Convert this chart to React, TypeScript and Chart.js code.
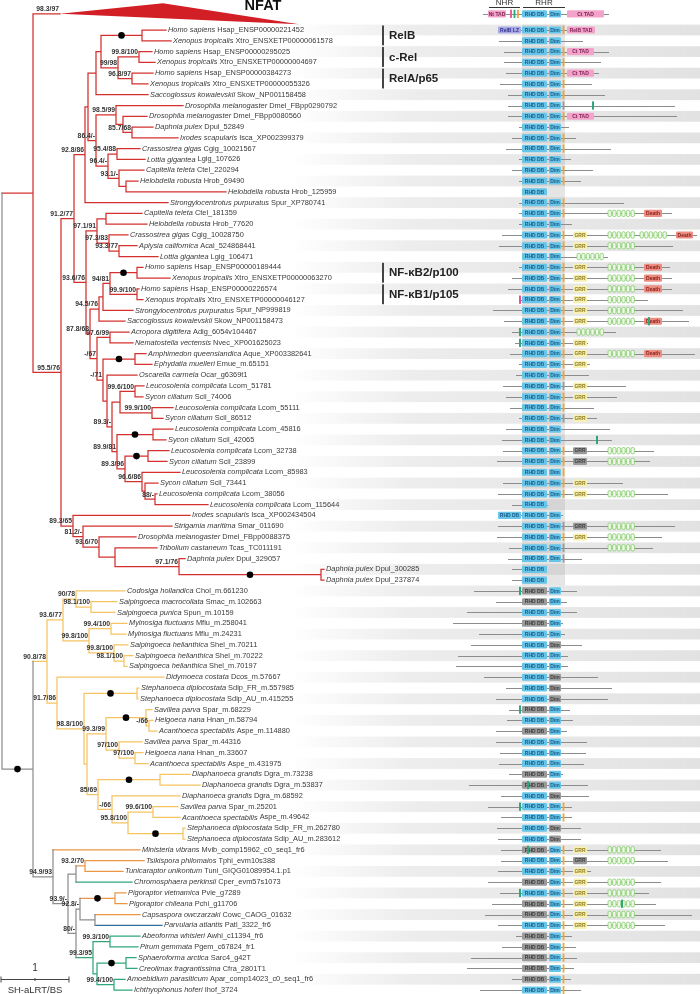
import React, { useEffect, useRef } from 'react';
import { Chart, registerables } from 'chart.js';

Chart.register(...registerables);

// ---------- page / row geometry ----------
const WIDTH = 700;
const HEIGHT = 994;
const ROW_TOP_PX = 30;
const ROW_STEP_PX = 10.787;
const Y_MIN = -ROW_TOP_PX / ROW_STEP_PX;
const Y_MAX = (HEIGHT - ROW_TOP_PX) / ROW_STEP_PX;
const FONT = '"Liberation Sans", Arial, Helvetica, sans-serif';

const PALETTE: Record<string, string> = {
  r: '#d3302e', y: '#f6c462', k: '#8e8e8e', o: '#eb9646', g: '#2ea87a', b: '#2f6f9e', p: '#e8508f',
};

// ---------- leaves (one per row) ----------
const leafSpecies = [
  'Homo sapiens', 'Xenopus tropicalis', 'Homo sapiens', 'Xenopus tropicalis', 'Homo sapiens', 'Xenopus tropicalis', 'Saccoglossus kowalevskii', 'Drosophila melanogaster', 'Drosophila melanogaster', 'Daphnia pulex',
  'Ixodes scapularis', 'Crassostrea gigas', 'Lottia gigantea', 'Capitella teleta', 'Helobdella robusta', 'Helobdella robusta', 'Strongylocentrotus purpuratus', 'Capitella teleta', 'Helobdella robusta', 'Crassostrea gigas',
  'Aplysia californica', 'Lottia gigantea', 'Homo sapiens', 'Xenopus tropicalis', 'Homo sapiens', 'Xenopus tropicalis', 'Strongylocentrotus purpuratus', 'Saccoglossus kowalevskii', 'Acropora digitifera', 'Nematostella vectensis',
  'Amphimedon queenslandica', 'Ephydatia muelleri', 'Oscarella carmela', 'Leucosolenia complicata', 'Sycon ciliatum', 'Leucosolenia complicata', 'Sycon ciliatum', 'Leucosolenia complicata', 'Sycon ciliatum', 'Leucosolenia complicata',
  'Sycon ciliatum', 'Leucosolenia complicata', 'Sycon ciliatum', 'Leucosolenia complicata', 'Leucosolenia complicata', 'Ixodes scapularis', 'Strigamia maritima', 'Drosophila melanogaster', 'Tribolium castaneum', 'Daphnia pulex',
  'Daphnia pulex', 'Daphnia pulex', 'Codosiga hollandica', 'Salpingoeca macrocollata', 'Salpingoeca punica', 'Mylnosiga fluctuans', 'Mylnosiga fluctuans', 'Salpingoeca helianthica', 'Salpingoeca helianthica', 'Salpingoeca helianthica',
  'Didymoeca costata', 'Stephanoeca diplocostata', 'Stephanoeca diplocostata', 'Savillea parva', 'Helgoeca nana', 'Acanthoeca spectabilis', 'Savillea parva', 'Helgoeca nana', 'Acanthoeca spectabilis', 'Diaphanoeca grandis',
  'Diaphanoeca grandis', 'Diaphanoeca grandis', 'Savillea parva', 'Acanthoeca spectabilis', 'Stephanoeca diplocostata', 'Stephanoeca diplocostata', 'Ministeria vibrans', 'Tsikispora philomaios', 'Tunicaraptor unikontum', 'Chromosphaera perkinsii',
  'Pigoraptor vietnamica', 'Pigoraptor chileana', 'Capsaspora owczarzaki', 'Parvularia atlantis', 'Abeoforma whisleri', 'Pirum gemmata', 'Sphaeroforma arctica', 'Creolimax fragrantissima', 'Amoebidium parasiticum', 'Ichthyophonus hoferi',
];
const leafIds = [
  'Hsap_ENSP00000221452', 'Xtro_ENSXETP00000061578', 'Hsap_ENSP00000295025', 'Xtro_ENSXETP00000004697', 'Hsap_ENSP00000384273', 'Xtro_ENSXETP00000055326', 'Skow_NP001158458', 'Dmel_FBpp0290792', 'Dmel_FBpp0080560', 'Dpul_52849',
  'Isca_XP002399379', 'Cgig_10021567', 'Lgig_107626', 'Ctel_220294', 'Hrob_69490', 'Hrob_125959', 'Spur_XP780741', 'Ctel_181359', 'Hrob_77620', 'Cgig_10028750',
  'Acal_524868441', 'Lgig_106471', 'Hsap_ENSP00000189444', 'Xtro_ENSXETP00000063270', 'Hsap_ENSP00000226574', 'Xtro_ENSXETP00000046127', 'Spur_NP999819', 'Skow_NP001158473', 'Adig_6054v104467', 'Nvec_XP001625023',
  'Aque_XP003382641', 'Emue_m.65151', 'Ocar_g6369t1', 'Lcom_51781', 'Scil_74006', 'Lcom_55111', 'Scil_86512', 'Lcom_45816', 'Scil_42065', 'Lcom_32738',
  'Scil_23899', 'Lcom_85983', 'Scil_73441', 'Lcom_38056', 'Lcom_115644', 'Isca_XP002434504', 'Smar_011690', 'Dmel_FBpp0088375', 'Tcas_TC011191', 'Dpul_329057',
  'Dpul_300285', 'Dpul_237874', 'Chol_m.661230', 'Smac_m.102663', 'Spun_m.10159', 'Mflu_m.258041', 'Mflu_m.24231', 'Shel_m.70211', 'Shel_m.70222', 'Shel_m.70197',
  'Dcos_m.57667', 'Sdip_FR_m.557985', 'Sdip_AU_m.415255', 'Spar_m.68229', 'Hnan_m.58794', 'Aspe_m.114880', 'Spar_m.44316', 'Hnan_m.33607', 'Aspe_m.431975', 'Dgra_m.73238',
  'Dgra_m.53837', 'Dgra_m.68592', 'Spar_m.25201', 'Aspe_m.49642', 'Sdip_FR_m.262780', 'Sdip_AU_m.283612', 'Mvib_comp15962_c0_seq1_fr6', 'Tphi_evm10s388', 'Tuni_GIQG01089954.1.p1', 'Cper_evm57s1073',
  'Pvie_g7289', 'Pchi_g11706', 'Cowc_CAOG_01632', 'Patl_3322_fr6', 'Awhi_c11394_fr6', 'Pgem_c67824_fr1', 'Sarc4_g42T', 'Cfra_2801T1', 'Apar_comp14023_c0_seq1_fr6', 'Ihof_3724',
];
const leafParent = [
  'V12', 'V12', 'V34', 'V34', 'V56', 'V56', 'X2', 'S', 'U', 'V1011',
  'V1011', 'W', 'W', 'Y', 'Z', 'Z', 'P1', 'L1819', 'L1819', 'L20',
  'L2122', 'L2122', 'V2324', 'V2324', 'V2526', 'V2526', 'J2', 'K', 'G', 'G',
  'E', 'E', 'C', 'V3435', 'V3435', 'V3637', 'V3637', 'V3839', 'V3839', 'V4041',
  'V4041', 'A4', 'A5', 'A6', 'A6', 'O', 'O2', 'O3', 'O4', 'O5',
  'O6', 'O6', 'C90', 'C5455', 'C5455', 'C5657', 'C5657', 'C58', 'C5960', 'C5960',
  'Cho2', 'C6263', 'C6263', 'K1', 'K6566', 'K6566', 'K2', 'K6869', 'K6869', 'L7071',
  'L7071', 'L2n', 'L7374', 'L7374', 'L7576', 'L7576', 'Hol', 'T7879', 'T7879', 'T1',
  'P8182', 'P8182', 'P8384', 'P8384', 'I8586', 'I8586', 'I8788', 'I8788', 'I8990', 'I8990',
];
const leafTip = [
  166, 171, 152, 155, 153, 148, 148, 183, 147, 153,
  178, 140, 145, 144, 138, 226, 168, 142, 147, 128,
  137, 158, 143, 170, 139, 143, 133, 125, 129, 133,
  146, 152, 137, 144, 143, 173, 163, 173, 166, 169,
  167, 180, 158, 157, 208, 190, 172, 136, 157, 185,
  324, 324, 125, 117, 115, 127, 126, 128, 133, 127,
  164, 139, 138, 152, 153, 157, 142, 143, 148, 190,
  200, 180, 178, 180, 185, 185, 140, 144, 123, 132,
  126, 127, 140, 162, 140, 138, 136, 137, 125, 132,
];
const leafColor =
  'rrrrrrrrrr' + 'rrrrrrrrrr' + 'rrrrrrrrrr' + 'rrrrrrrrrr' + 'rrrrrrrrrr' +
  'rryyyyyyyy' + 'yyyyyyyyyy' + 'yyyyyyooog' + 'ooobgggggg';

// ---------- internal nodes ----------
const nodeName = [
  'root', 'A', 'NFAT', 'N0', 'N1', 'P1', 'Q', 'X2', 'X1', 'V12',
  'X0', 'V34', 'V56', 'R', 'S', 'U', 'V1011', 'T', 'W', 'Y',
  'Z', 'N2', 'L', 'L1819', 'L20', 'L2122', 'M', 'K', 'J2', 'J',
  'V2324', 'V2526', 'H', 'G', 'F', 'E', 'C', 'B1', 'A1', 'V3435',
  'V3637', 'A2', 'V3839', 'A3', 'V4041', 'A4', 'A5', 'A6', 'O', 'O2',
  'O3', 'O4', 'O5', 'O6', 'B', 'Cho', 'Cho1', 'C90', 'C5455', 'C99',
  'C5657', 'C58', 'C5960', 'Cho2', 'Cho3', 'C6263', 'Cho3b', 'Cho4', 'K1', 'K6566',
  'K2', 'K6869', 'Cho5', 'L7071', 'L2n', 'L95', 'L7374', 'L7576', 'Hol', 'Hol2',
  'T1', 'T7879', 'H80', 'P', 'P8182', 'P8384', 'I1', 'I8586', 'I2', 'I8788',
  'I8990',
];
const nodeParent = [
  '', 'root', 'A', 'A', 'N0', 'N1', 'P1', 'Q', 'X2', 'X1',
  'X1', 'X0', 'X0', 'Q', 'R', 'S', 'U', 'R', 'T', 'T',
  'Y', 'N1', 'N2', 'L', 'L', 'L20', 'N2', 'M', 'K', 'J2',
  'J', 'J', 'M', 'H', 'H', 'F', 'F', 'C', 'B1', 'A1',
  'A1', 'B1', 'A2', 'A2', 'A3', 'A3', 'A4', 'A5', 'N0', 'O',
  'O2', 'O3', 'O4', 'O5', 'root', 'B', 'Cho', 'Cho1', 'C90', 'Cho1',
  'C99', 'C99', 'C58', 'Cho', 'Cho2', 'Cho3', 'Cho3', 'Cho3b', 'Cho4', 'K1',
  'Cho4', 'K2', 'Cho3b', 'Cho5', 'Cho5', 'L2n', 'L95', 'L95', 'B', 'Hol',
  'Hol2', 'T1', 'Hol2', 'H80', 'P', 'P', 'H80', 'I1', 'I1', 'I2',
  'I2',
];
const nodeX = [
  2, 33, 60, 61, 74, 85, 88, 96, 101, 142,
  118, 139, 132, 96, 116, 123, 132, 108, 117, 119,
  126, 86, 97, 106, 109, 119, 90, 99, 103, 110,
  137, 137, 97, 110, 103, 135, 107, 112, 120, 135,
  152, 117, 153, 125, 148, 142, 145, 155, 73, 83,
  99, 115, 179, 321, 33, 47, 63, 76, 91, 89,
  111, 114, 124, 57, 84, 137, 87, 106, 146, 149,
  119, 135, 98, 160, 112, 128, 153, 183, 53, 68,
  76, 85, 76, 80, 115, 95, 93, 110, 97, 126,
  114,
];
const nodeSupport = [
  '', '', '98.3/97', '95.5/76', '91.2/77', '92.8/86', '', '', '', '',
  '99/98', '99.8/100', '96.8/97', '86.4/-', '98.5/99', '', '85.7/68', '96.4/-', '95.4/88', '93.1/-',
  '', '93.6/76', '97.1/91', '', '97.3/83', '93.3/77', '87.8/68', '94.5/76', '', '94/81',
  '', '99.9/100', '-/67', '97.6/99', '-/71', '', '', '89.3/-', '', '99.6/100',
  '99.9/100', '89.9/81', '', '89.3/96', '', '96.6/86', '', '88/-', '89.3/65', '81.2/-',
  '93.6/70', '', '97.1/76', '', '', '90.8/78', '93.6/77', '90/78', '98.1/100', '99.8/100',
  '99.4/100', '99.8/100', '98.1/100', '91.7/86', '98.8/100', '', '', '99.3/99', '', '-/66',
  '97/100', '97/100', '85/69', '', '-/66', '95.8/100', '99.6/100', '', '94.9/93', '93.9/-',
  '', '93.2/70', '80/-', '92.8/-', '', '', '99.3/95', '99.3/100', '', '',
  '99.4/100',
];
const nodeDot =
  '0000000001' + '0000000000' + '0000000000' + '1000010000' + '0010100000' +
  '0001100000' + '0000010010' + '0001000100' + '0000100001' + '0';
const nodeColor =
  'krrrrrrrrr' + 'rrrrrrrrrr' + 'rrrrrrrrrr' + 'rrrrrrrrrr' + 'rrrrrrrrrr' +
  'rrrrkyyyyy' + 'yyyyyyyyyy' + 'yyyyyyyykk' + 'kokkokgggg' + 'g';

// collapsed NFAT clade glyph
const NFAT_ROW = -1.5;
const NFAT_GLYPH_X = [60, 163, 299];
const NFAT_GLYPH_DROW = [0, -0.98, 0.96];

// clade names
const groupName = ['RelB', 'c-Rel', 'RelA/p65', 'NF-\u03baB2/p100', 'NF-\u03baB1/p105'];
const groupFirst = [0, 2, 4, 22, 24];
const groupLast = [1, 3, 5, 23, 25];
const GROUP_BAR_X = 383;
const GROUP_TEXT_X = 389;

// ---------- domain architectures (protein axis shares the x scale) ----------
const lineStart = [
  498, 499, 504, 504, 506, 500, 508, 508, 508, 519,
  512, 506, 519, 512, 519, null, 519, 519, 519, 502,
  499, 522, 519, 512, 508, 519, 493, 504, 512, 515,
  510, 519, 516, 503, 506, 510, 519, 506, 502, 503,
  497, null, 503, 498, 512, 498, 498, 497, 509, 508,
  512, 512, 474, 496, 467, 453, 479, 471, 458, 456,
  484, 506, 496, 509, 507, 496, 496, 500, 499, 509,
  469, 501, 488, 501, 497, 498, 501, 501, 498, 488,
  500, 492, 485, 498, 516, 502, 471, 467, 512, 480,
];
const lineEnd = [
  595, 583, 609, 601, 599, 592, 605, 675, 677, 569,
  576, 611, 571, 593, 581, null, 624, 672, 572, 697,
  673, 608, 670, 672, 672, 648, 683, 689, 616, 588,
  695, 590, 589, 626, 617, 594, 597, 610, 612, 654,
  650, null, 623, 668, 548, 563, 675, 662, 653, 582,
  547, 547, 577, 567, 577, 563, 565, 582, 568, 568,
  598, 612, 608, 570, 573, 567, 587, 586, 584, 563,
  588, 589, 572, 572, 581, 581, 661, 668, 591, 661,
  649, 656, 692, 665, 572, 576, 577, 574, 571, 581,
];
const rhdCode =
  'bbbbbbbbbb' + 'bbbbbbbbbb' + 'bbbbbbbbbb' + 'bbbbbbbbbb' + 'bbbbbbbbbb' +
  'bbggbgbbbb' + 'bbbgbgbbbg' + 'gbbbbbgbbg' + 'bggbgggggb';
const dimCode =
  'bbbbbbbbbb' + 'bbbbb-bbbb' + 'bbbbbbbbbb' + 'bbbbbbbbbb' + 'bbbb-bbbbb' +
  '--bbbbbgbb' + 'gggbbbbbbb' + 'bgbbggbbbb' + 'bbbbbbbbbb';
const iptCode =
  'o-ooooogo-' + 'oo-oo-oo-o' + 'o-oooooooo' + 'ooogoog--o' + 'oooo--gogg' +
  '----------' + '----------' + '--oo--oooo' + 'oooooooooo';
const grrCode =
  '----------' + '---------y' + 'y-yyyyyy-y' + 'yy-yy-y--g' + 'g-yy--gy--' +
  '----------' + '----------' + '------ygyy' + 'yyyy------';
const ankCode =
  '----------' + '-------a-c' + 'abaaaaaab-' + 'a--------a' + 'a--a--aaa-' +
  '----------' + '----------' + '------aa-a' + 'aaaa------';
const deathCode =
  '----------' + '-------x-z' + '--xxx--x--' + 'x---------' + '----------' +
  '----------' + '----------' + '----------' + '----------';
const ANK_STARTS: Record<string, number[]> = { a: [608], b: [577], c: [608, 640] };
const DEATH_POS: Record<string, number[]> = { x: [644, 662], z: [676, 693] };
const RHD_POS = [522, 547];
const DIM_POS = [549, 561];
const IPT_POS = 563.5;
const GRR_POS = [573, 587];
const tadRow = [0, 2, 4, 8];
const tadStart = [567, 567, 567, 567];
const tadEnd = [595, 594, 594, 594];
const tadLabel = ['RelB TAD', 'Ct TAD', 'Ct TAD', 'Ct TAD'];
const nBoxRow = [0, 45];
const nBoxLabel = ['RelB LZ', 'RHD DB'];
const nBoxPos = [498, 521];
const tickRow = [7, 25, 27, 28, 29, 38, 52, 63, 70, 72, 76, 80, 81];
const tickX = [593, 520, 649, 520, 520, 597, 520, 520, 528, 520, 528, 520, 622];
const tickColor = 'gpggggggggggg';

// NFAT reference architecture (header row)
const nfatLine = [483, 609];
const nfatNtTad = [488, 506];
const nfatCtTad = [567, 604];
const nfatTicks = [511, 514.5];
const NFAT_IPT = 518;

const RHR_BAND = [522, 565];
const BAND_ROWS = [0, 51];
const STRIPE_FROM = 290;
const headerNames = ['NHR', 'RHR'];
const headerSpans = [[489, 520], [523, 565]];

const SCALE_X0 = 1;
const SCALE_LEN = 68; // one substitution per site
const SCALE_ROW = 87.98;

const DOM = {
  blue: '#66c5e8', blueText: '#1b5a86', gray: '#9a9a9a', grayText: '#3c3c3c',
  pink: '#f3a2c9', pinkText: '#7e2455', lz: '#a9a8e6', lzText: '#34348a',
  grr: '#f8f1b5', grrText: '#8d7c1d', death: '#ec8d82', deathText: '#8a211b',
  ank: '#8fcf78', ankFill: '#eef8e6', orange: '#f2a53a', line: '#8c8c8c',
};

type TNode = { name: string; parent: string; x: number; label: string; dot: boolean; color: string; y: number; yMin: number; yMax: number };

function buildTree() {
  const nodes: TNode[] = nodeName.map((n, i) => ({
    name: n, parent: nodeParent[i], x: nodeX[i], label: nodeSupport[i], dot: nodeDot[i] === '1',
    color: PALETTE[nodeColor[i]], y: NaN, yMin: NaN, yMax: NaN,
  }));
  const byName: Record<string, TNode> = {};
  nodes.forEach((n) => { byName[n.name] = n; });
  const place = (n: TNode): number => {
    if (!isNaN(n.y)) return n.y;
    const ys: number[] = [];
    leafParent.forEach((p, i) => { if (p === n.name) ys.push(i); });
    nodes.forEach((c) => { if (c.parent === n.name) ys.push(place(c)); });
    if (ys.length === 0) { n.y = NFAT_ROW; n.yMin = NFAT_ROW; n.yMax = NFAT_ROW; return n.y; }
    n.yMin = Math.min(...ys); n.yMax = Math.max(...ys);
    n.y = (n.yMin + n.yMax) / 2;
    return n.y;
  };
  nodes.forEach(place);
  return { nodes, byName };
}

function roundBox(ctx: CanvasRenderingContext2D, x0: number, x1: number, yc: number, h: number, fill: string, text?: string, tcol?: string) {
  ctx.fillStyle = fill;
  ctx.beginPath();
  (ctx as any).roundRect(x0, yc - h / 2, x1 - x0, h, 1.2);
  ctx.fill();
  if (text) {
    ctx.fillStyle = tcol || '#333';
    ctx.font = `bold 5px ${FONT}`;
    ctx.textAlign = 'center';
    ctx.textBaseline = 'middle';
    ctx.fillText(text, (x0 + x1) / 2, yc + 0.4);
  }
}

export default function App() {
  const ref = useRef<HTMLCanvasElement>(null);

  useEffect(() => {
    const canvas = ref.current;
    if (!canvas) return;
    const { nodes, byName } = buildTree();

    // branch segments grouped by colour
    const segs: Record<string, any[]> = {};
    const add = (color: string, pts: { x: number; y: number }[]) => {
      if (!segs[color]) segs[color] = [];
      segs[color].push(...pts, { x: pts[pts.length - 1].x, y: null });
    };
    nodes.forEach((n) => {
      if (n.parent) {
        const p = byName[n.parent];
        add(n.color, [{ x: p.x, y: n.y }, { x: n.x, y: n.y }]);
      }
      if (n.yMax > n.yMin) add(n.color, [{ x: n.x, y: n.yMin }, { x: n.x, y: n.yMax }]);
    });
    leafParent.forEach((p, i) => {
      add(PALETTE[leafColor[i]], [{ x: byName[p].x, y: i }, { x: leafTip[i], y: i }]);
    });
    const dots = nodes.filter((n) => n.dot && n.parent).map((n) => ({ x: (byName[n.parent].x + n.x) / 2, y: n.y }));

    const datasets: any[] = [
      { type: 'scatter', data: dots, pointRadius: 3.3, pointBackgroundColor: '#000', pointBorderWidth: 0, showLine: false },
      ...Object.keys(segs).map((c) => ({
        type: 'line', data: segs[c], borderColor: c, borderWidth: 1.25, pointRadius: 0,
        tension: 0, spanGaps: false, borderCapStyle: 'square', fill: false,
      })),
    ];

    const decor = {
      id: 'decor',
      beforeDatasetsDraw(chart: any) {
        const { ctx } = chart;
        const xs = (v: number) => chart.scales.x.getPixelForValue(v);
        const ys = (v: number) => chart.scales.y.getPixelForValue(v);
        ctx.save();
        const grad = ctx.createLinearGradient(xs(STRIPE_FROM), 0, xs(WIDTH), 0);
        grad.addColorStop(0, 'rgba(230,230,230,0)');
        grad.addColorStop(0.3, 'rgba(232,232,232,0.8)');
        grad.addColorStop(1, 'rgba(226,226,226,1)');
        ctx.fillStyle = grad;
        for (let i = 0; i < leafSpecies.length; i += 2) {
          const y0 = ys(i - 0.5), y1 = ys(i + 0.5);
          ctx.fillRect(xs(STRIPE_FROM), y0, xs(WIDTH) - xs(STRIPE_FROM), y1 - y0);
        }
        ctx.fillStyle = 'rgba(170,170,170,0.3)';
        const b0 = ys(BAND_ROWS[0] - 0.5), b1 = ys(BAND_ROWS[1] + 0.5);
        ctx.fillRect(xs(RHR_BAND[0]), b0, xs(RHR_BAND[1]) - xs(RHR_BAND[0]), b1 - b0);
        ctx.restore();
      },
      afterDatasetsDraw(chart: any) {
        const { ctx } = chart;
        const xs = (v: number) => chart.scales.x.getPixelForValue(v);
        const ys = (v: number) => chart.scales.y.getPixelForValue(v);
        ctx.save();

        // collapsed NFAT clade
        ctx.fillStyle = '#d21f26';
        ctx.beginPath();
        NFAT_GLYPH_X.forEach((gx, k) => {
          const px = xs(gx), py = ys(NFAT_ROW + NFAT_GLYPH_DROW[k]);
          if (k === 0) ctx.moveTo(px, py); else ctx.lineTo(px, py);
        });
        ctx.closePath();
        ctx.fill();
        ctx.fillStyle = '#111';
        ctx.font = `bold 14.5px ${FONT}`;
        ctx.textAlign = 'center';
        ctx.textBaseline = 'middle';
        ctx.fillText('NFAT', xs(263), ys(-2.2));

        // support values
        ctx.font = `bold 6.8px ${FONT}`;
        ctx.textAlign = 'right';
        ctx.fillStyle = '#333';
        nodes.forEach((n) => { if (n.label) ctx.fillText(n.label, xs(n.x) - 1, ys(n.y) - 4.6); });

        // leaf labels
        ctx.textAlign = 'left';
        ctx.fillStyle = '#3a3a3a';
        leafSpecies.forEach((sp, i) => {
          const x = xs(leafTip[i]) + 2, y = ys(i);
          ctx.font = `italic 7.4px ${FONT}`;
          ctx.fillText(sp, x, y);
          const w = ctx.measureText(sp + ' ').width;
          ctx.font = `7.4px ${FONT}`;
          ctx.fillText(leafIds[i], x + w, y);
        });

        // clade names
        groupName.forEach((g, i) => {
          const y0 = ys(groupFirst[i] - 0.42), y1 = ys(groupLast[i] + 0.42);
          ctx.fillStyle = '#444';
          ctx.fillRect(xs(GROUP_BAR_X) - 1, y0, 2, y1 - y0);
          ctx.fillStyle = '#222';
          ctx.font = `bold 11.5px ${FONT}`;
          ctx.textAlign = 'left';
          ctx.fillText(g, xs(GROUP_TEXT_X), ys((groupFirst[i] + groupLast[i]) / 2) + 0.5);
        });

        // header NHR / RHR
        ctx.fillStyle = '#333';
        ctx.strokeStyle = '#333';
        ctx.lineWidth = 1;
        ctx.font = `8px ${FONT}`;
        ctx.textAlign = 'center';
        headerNames.forEach((h, k) => {
          const [a, b] = headerSpans[k];
          ctx.fillText(h, (xs(a) + xs(b)) / 2, ys(-2.5));
          ctx.beginPath();
          ctx.moveTo(xs(a), Math.round(ys(-2.09)) + 0.5);
          ctx.lineTo(xs(b), Math.round(ys(-2.09)) + 0.5);
          ctx.stroke();
        });

        const bh = ys(0.33) - ys(-0.33);
        const drawLine = (a: number, b: number, yc: number) => {
          ctx.strokeStyle = DOM.line;
          ctx.lineWidth = 1;
          ctx.beginPath();
          ctx.moveTo(xs(a), Math.round(yc) + 0.5);
          ctx.lineTo(xs(b), Math.round(yc) + 0.5);
          ctx.stroke();
        };
        const vtick = (x: number, yc: number, color: string, w = 1.8) => {
          ctx.fillStyle = color;
          ctx.fillRect(xs(x) - w / 2, yc - bh * 0.58, w, bh * 1.16);
        };

        // NFAT reference row
        {
          const yc = ys(NFAT_ROW);
          drawLine(nfatLine[0], nfatLine[1], yc);
          roundBox(ctx, xs(nfatNtTad[0]), xs(nfatNtTad[1]), yc, bh, DOM.pink, 'Nt TAD', DOM.pinkText);
          vtick(nfatTicks[0], yc, PALETTE.p);
          vtick(nfatTicks[1], yc, PALETTE.g);
          vtick(NFAT_IPT, yc, DOM.orange);
          roundBox(ctx, xs(RHD_POS[0]), xs(RHD_POS[1]), yc, bh, DOM.blue, 'RHD DB', DOM.blueText);
          roundBox(ctx, xs(DIM_POS[0]), xs(DIM_POS[1]), yc, bh, DOM.blue, 'Dim', DOM.blueText);
          roundBox(ctx, xs(nfatCtTad[0]), xs(nfatCtTad[1]), yc, bh, DOM.pink, 'Ct TAD', DOM.pinkText);
        }

        // per-leaf architectures
        for (let i = 0; i < leafSpecies.length; i++) {
          const yc = ys(i);
          const ls = lineStart[i], le = lineEnd[i];
          if (ls != null && le != null) drawLine(ls, le, yc);
          const nb = nBoxRow.indexOf(i);
          if (nb >= 0) {
            const isLz = nBoxLabel[nb] !== 'RHD DB';
            roundBox(ctx, xs(nBoxPos[0]), xs(nBoxPos[1]), yc, bh, isLz ? DOM.lz : DOM.blue, nBoxLabel[nb], isLz ? DOM.lzText : DOM.blueText);
          }
          const rg = rhdCode[i] === 'g';
          roundBox(ctx, xs(RHD_POS[0]), xs(RHD_POS[1]), yc, bh, rg ? DOM.gray : DOM.blue, 'RHD DB', rg ? DOM.grayText : DOM.blueText);
          if (dimCode[i] !== '-') {
            const dg = dimCode[i] === 'g';
            roundBox(ctx, xs(DIM_POS[0]), xs(DIM_POS[1]), yc, bh, dg ? DOM.gray : DOM.blue, 'Dim', dg ? DOM.grayText : DOM.blueText);
          }
          if (iptCode[i] !== '-') vtick(IPT_POS, yc, iptCode[i] === 'o' ? DOM.orange : DOM.gray);
          const t = tadRow.indexOf(i);
          if (t >= 0) roundBox(ctx, xs(tadStart[t]), xs(tadEnd[t]), yc, bh, DOM.pink, tadLabel[t], DOM.pinkText);
          if (grrCode[i] !== '-') {
            const gg = grrCode[i] === 'g';
            roundBox(ctx, xs(GRR_POS[0]), xs(GRR_POS[1]), yc, bh, gg ? DOM.gray : DOM.grr, 'GRR', gg ? DOM.grayText : DOM.grrText);
          }
          if (ankCode[i] !== '-') {
            ANK_STARTS[ankCode[i]].forEach((s) => {
              ctx.strokeStyle = DOM.ank;
              ctx.lineWidth = 0.9;
              ctx.beginPath();
              ctx.moveTo(xs(s), Math.round(yc) + 0.5);
              ctx.lineTo(xs(s + 27), Math.round(yc) + 0.5);
              ctx.stroke();
              for (let k = 0; k < 6; k++) {
                const x0 = xs(s + k * 4.6);
                ctx.fillStyle = DOM.ankFill;
                ctx.beginPath();
                (ctx as any).roundRect(x0, yc - bh * 0.45, 3.4, bh * 0.9, 1.4);
                ctx.fill();
                ctx.stroke();
              }
            });
          }
          if (deathCode[i] !== '-') {
            const [a, b] = DEATH_POS[deathCode[i]];
            roundBox(ctx, xs(a), xs(b), yc, bh, DOM.death, 'Death', DOM.deathText);
          }
        }
        tickRow.forEach((r, k) => vtick(tickX[k], ys(r), PALETTE[tickColor[k]], 2));

        // scale bar
        {
          const sy = Math.round(ys(SCALE_ROW)) + 0.5;
          const a = xs(SCALE_X0), b = xs(SCALE_X0 + SCALE_LEN), m = (a + b) / 2;
          ctx.strokeStyle = '#444';
          ctx.lineWidth = 1;
          ctx.beginPath();
          ctx.moveTo(a, sy); ctx.lineTo(b, sy);
          ctx.moveTo(a, sy - 3); ctx.lineTo(a, sy + 3);
          ctx.moveTo(b, sy - 3); ctx.lineTo(b, sy + 3);
          ctx.moveTo(m, sy - 1.5); ctx.lineTo(m, sy + 1.5);
          ctx.stroke();
          ctx.fillStyle = '#333';
          ctx.textAlign = 'center';
          ctx.font = `10px ${FONT}`;
          ctx.fillText('1', m, sy - 11);
          ctx.font = `9.5px ${FONT}`;
          ctx.fillText('SH-aLRT/BS', m, sy + 10.5);
        }
        ctx.restore();
      },
    };

    const chart = new Chart(canvas, {
      type: 'line',
      data: { datasets },
      options: {
        animation: false,
        responsive: false,
        maintainAspectRatio: false,
        events: [],
        layout: { padding: 0, autoPadding: false },
        plugins: { legend: { display: false }, tooltip: { enabled: false }, title: { display: false } },
        scales: {
          x: { type: 'linear', min: 0, max: WIDTH, display: false },
          y: { type: 'linear', min: Y_MIN, max: Y_MAX, reverse: true, display: false },
        },
      } as any,
      plugins: [decor as any],
    });
    return () => chart.destroy();
  }, []);

  return (
    <div style={{ position: 'absolute', left: 0, top: 0, width: WIDTH, height: HEIGHT, background: '#fff' }}>
      <canvas ref={ref} width={WIDTH} height={HEIGHT} style={{ display: 'block', width: WIDTH, height: HEIGHT }} />
    </div>
  );
}
